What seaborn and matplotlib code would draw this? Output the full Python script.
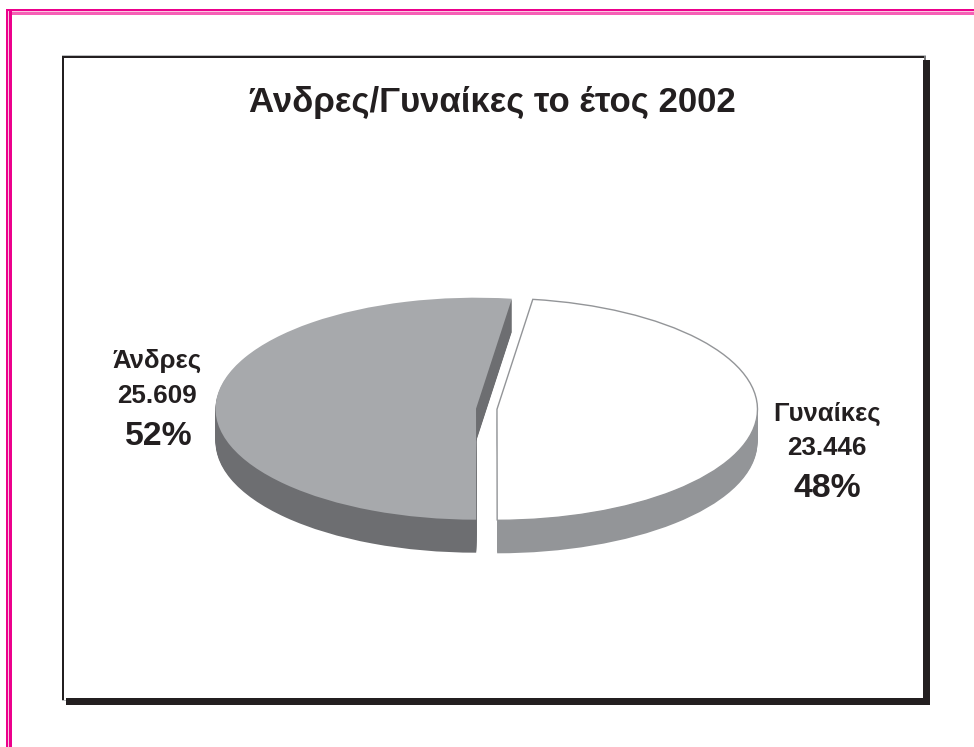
import matplotlib
matplotlib.use("Agg")
import matplotlib.pyplot as plt
from matplotlib.patches import Rectangle
import numpy as np
import seaborn as sns

TITLE = "Άνδρες/Γυναίκες το έτος 2002"
categories = ["Άνδρες", "Γυναίκες"]
counts = [25609, 23446]
start_angle = 82.1

top_colors = ["#a7a9ac", "#ffffff"]
side_colors = ["#6d6e71", "#939598"]
INK = "#231f20"

sns.set_theme(style="white")
plt.rcParams["font.family"] = ["Liberation Sans", "DejaVu Sans"]

W, H = 974, 747
fig = plt.figure(figsize=(W / 100, H / 100), dpi=100, facecolor="white")


def px_rect(x0, y0, x1, y1, color, z=1):
    """Filled rectangle given in pixel coordinates, origin top-left."""
    fig.add_artist(Rectangle((x0 / W, 1 - y1 / H), (x1 - x0) / W, (y1 - y0) / H,
                             transform=fig.transFigure, facecolor=color,
                             edgecolor="none", zorder=z))


def px_text(x, y, s, size):
    """Bold centred text whose baseline sits at pixel row y."""
    fig.text(x / W, 1 - y / H, s, fontsize=size, fontweight="bold", color=INK,
             ha="center", va="baseline", zorder=5)


# Decorative double rule along the top and left of the page
PINK, PINK_SOFT, PINK_PALE = "#ec008c", "#f55fb5", "#fbc4e0"
px_rect(6, 9, W, 14.6, PINK_SOFT)
px_rect(6, 9, W, 11, PINK)
px_rect(9, 11, W, 12.3, PINK_PALE)
px_rect(6, 9, 12, H, PINK)
px_rect(8, 11, 9.4, H, PINK_PALE)
px_rect(12, 14.6, W, 16, "white")

# Chart panel: thin outline with a heavy drop shadow
px_rect(61.5, 55, 925.5, 56, "#bcbec0")
px_rect(62, 700, 70, 701, "#bcbec0")
px_rect(62, 56, 924, 57.6, INK)
px_rect(62, 56, 63.6, 699.5, INK)
px_rect(923.5, 56, 925.5, 60, "#77787b")
px_rect(923, 60, 930, 705, INK)
px_rect(66, 698, 930, 705, INK)

# Pie axes: one unit spans the ellipse radii, so the disc is tilted by the scales
CX, CY, RX, RY, DEPTH = 486.5, 409, 260.5, 111, 33
ax = fig.add_axes([0, 0, 1, 1], zorder=3)
ax.patch.set_alpha(0)
explode = [10.5 / RX, 10.5 / RX]

# Extrude the disc by stacking copies downward, then lay the lit face on top
for offset in np.arange(DEPTH, 0, -1.0):
    ax.pie(counts, startangle=start_angle, counterclock=True, explode=explode,
           colors=side_colors, center=(0, -offset / RY),
           wedgeprops={"linewidth": 0})
wedges, _ = ax.pie(counts, startangle=start_angle, counterclock=True,
                   explode=explode, colors=top_colors, center=(0, 0),
                   wedgeprops={"linewidth": 0})
wedges[1].set_edgecolor("#939598")
wedges[1].set_linewidth(1.0)

ax.set_aspect("auto")
ax.set_xlim(-CX / RX, (W - CX) / RX)
ax.set_ylim((CY - H) / RY, CY / RY)
ax.axis("off")

# Title and slice labels
px_text(492.5, 112, TITLE, 25)

total = sum(counts)
label_pos = [((157, 368), (157, 403), (159, 445)),
             ((827, 421), (826.5, 455), (827, 497))]
for name, value, (p_name, p_val, p_pct) in zip(categories, counts, label_pos):
    px_text(*p_name, name, 18.5)
    px_text(*p_val, f"{value:,}".replace(",", "."), 18.7)
    px_text(*p_pct, f"{round(value / total * 100)}%", 24.3)

fig.savefig("out.png", dpi=100, facecolor="white")
